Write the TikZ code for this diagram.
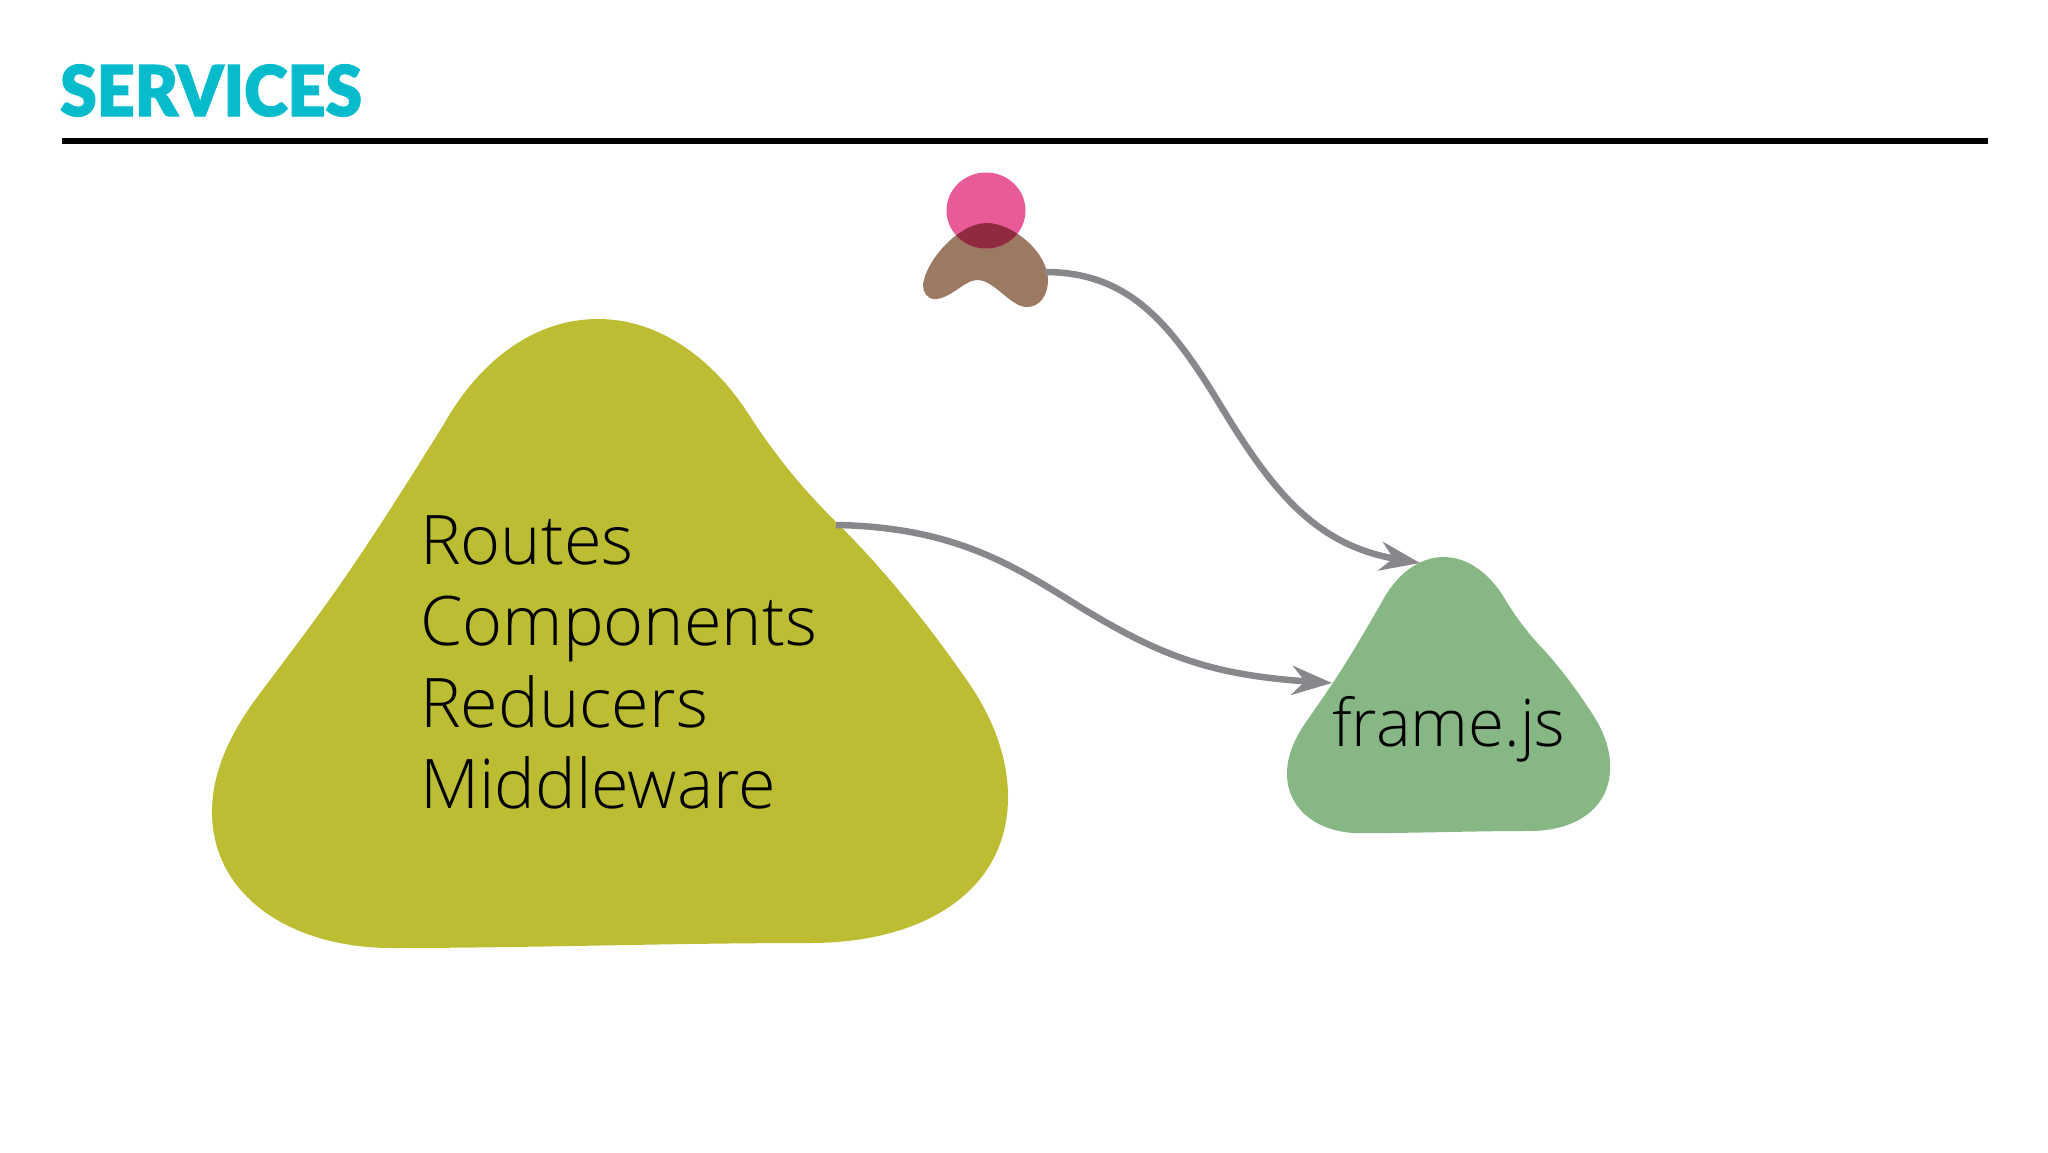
\documentclass[tikz,border=0pt]{standalone}
\usepackage{fontspec}
\usetikzlibrary{arrows.meta}
\newfontfamily\bodyfont{Open Sans Light}
\newfontfamily\titlefont[FakeBold=1.6,FakeStretch=0.945]{Lato Black}
\definecolor{olive}{HTML}{BDBD33}
\definecolor{leaf}{HTML}{87B784}
\definecolor{umber}{HTML}{9C7962}
\definecolor{rose}{HTML}{E85B97}
\definecolor{wine}{HTML}{8F2A40}
\definecolor{teal}{HTML}{06BBCC}
\definecolor{wire}{HTML}{8A878C}
\tikzset{
  labeltext/.style={font=\bodyfont\fontsize{68.4}{81}\selectfont,inner sep=0pt,anchor=base west,text=black},
  wirearrow/.style={draw=wire,line width=6.5pt,-{Stealth[length=40pt,width=29pt,inset=13pt]}},
}
\newcommand{\blobpath}{(598,319) .. controls (660,319) and (715,360) .. (751,418)
 .. controls (780,462) and (806,492) .. (836,522)
 .. controls (880,565) and (925,620) .. (966,679)
 .. controls (995,720) and (1008,760) .. (1008,797)
 .. controls (1008,890) and (925,943) .. (810,943)
 .. controls (670,943) and (530,948) .. (392,948)
 .. controls (290,948) and (212,895) .. (212,812)
 .. controls (212,770) and (232,730) .. (261,692)
 .. controls (330,600) and (350,575) .. (444,424)
 .. controls (480,360) and (535,319) .. (598,319) -- cycle}
\newcommand{\brownpath}{(987,223) .. controls (1012,223) and (1048,252) .. (1048,280)
 .. controls (1048,295) and (1040,307) .. (1027,307)
 .. controls (1010,307) and (995,280) .. (977,280)
 .. controls (965,280) and (950,299) .. (935,299)
 .. controls (927,299) and (923,292) .. (923,285)
 .. controls (925,262) and (958,223) .. (987,223) -- cycle}
\begin{document}
\begin{tikzpicture}[x=1pt,y=-1pt]
\useasboundingbox (0,0) rectangle (2048,1152);
\fill[white] (0,0) rectangle (2048,1152);
\node[font=\titlefont\fontsize{70}{70}\selectfont,text=teal,inner sep=0pt,anchor=base west] (title) at (60,116) {SERVICES};
\fill[black] (62,138.3) rectangle (1988,143.7);
\fill[olive] \blobpath;
\fill[leaf,shift={(1200.9,417)},xscale=.406,yscale=.439] \blobpath;
\fill[umber] \brownpath;
\fill[rose] (986,210.5) ellipse [x radius=39.5,y radius=38];
\begin{scope}
\clip \brownpath;
\fill[wine] (986,210.5) ellipse [x radius=39.5,y radius=38];
\end{scope}
\node[labeltext] (routes) at (420,564) {Routes};
\node[labeltext] (components) at (420,645) {Components};
\node[labeltext] (reducers) at (420,727) {Reducers};
\node[labeltext] (middleware) at (420,808) {Middleware};
\node[labeltext,font=\bodyfont\fontsize{65.5}{81}\selectfont] (frame) at (1332,746) {frame.js};
\coordinate (personout) at (1045,272);
\coordinate (framein1) at (1420,563);
\coordinate (blobout) at (836,525);
\coordinate (framein2) at (1332,683);
\coordinate (m1) at (1222,408);
\coordinate (m2) at (1085,610);
\draw[wirearrow] (personout) .. controls (1130,272) and (1172,325) .. (m1) .. controls (1272,490) and (1315,545) .. (framein1);
\draw[wirearrow] (blobout) .. controls (960,527) and (1020,570) .. (m2) .. controls (1160,655) and (1210,675) .. (framein2);
\end{tikzpicture}
\end{document}
